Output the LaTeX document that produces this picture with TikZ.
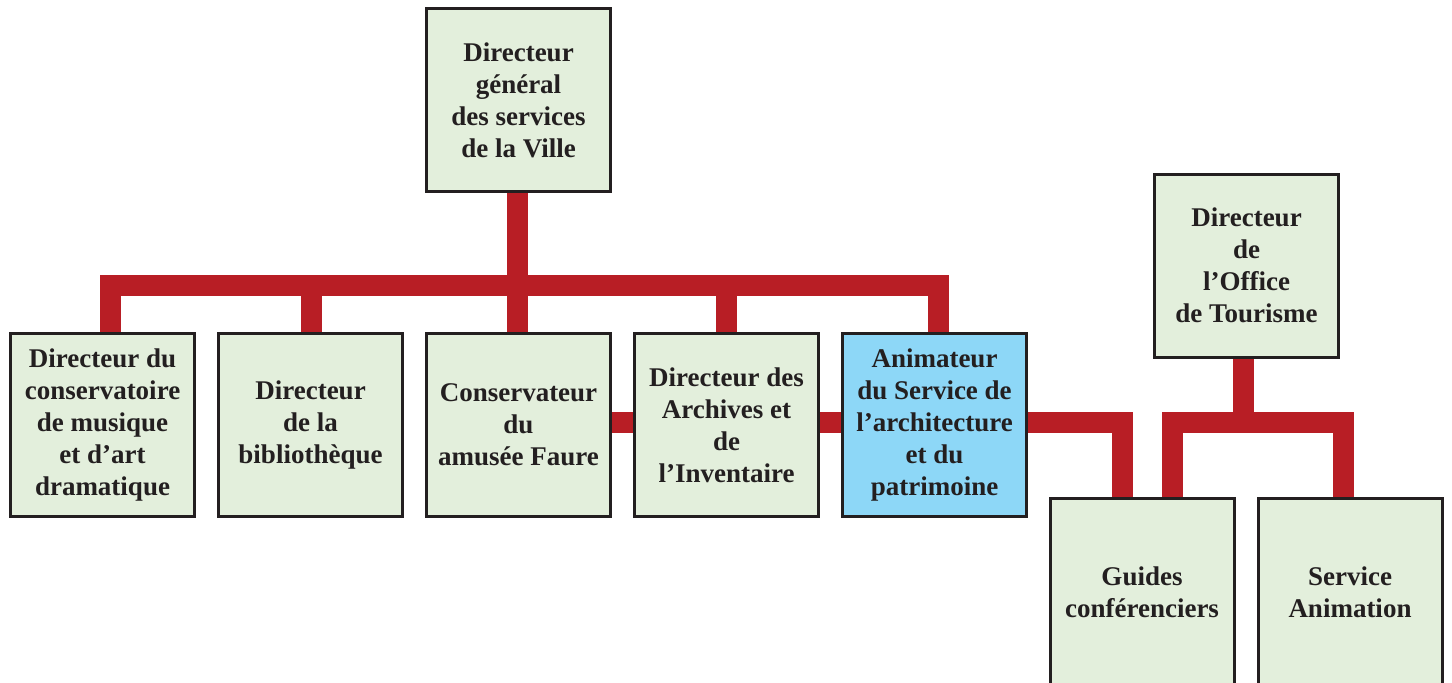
\documentclass[tikz,border=0pt]{standalone}
\usepackage{fontspec}
\setmainfont{Liberation Serif}
\usetikzlibrary{backgrounds}
\definecolor{boxgreen}{HTML}{E3EFDC}
\definecolor{boxblue}{HTML}{8DD7F7}
\definecolor{linkred}{HTML}{B81E25}
\definecolor{ink}{HTML}{231F20}
\pgfdeclarelayer{paper}
\pgfsetlayers{paper,background,main}
\begin{document}
\begin{tikzpicture}[x=1pt,y=-1pt,
  box/.style={draw=ink, line width=3pt, fill=boxgreen, minimum width=184pt, minimum height=183pt,
    inner sep=0pt, align=center, text=ink, font=\fontsize{27}{32}\selectfont\bfseries},
  hilite/.style={box, fill=boxblue},
  link/.style={draw=linkred, line width=21pt, line join=miter, line cap=butt}]
\clip (0,0) rectangle (1452,683);
\begin{pgfonlayer}{paper}
\fill[white] (0,0) rectangle (1452,683);
\end{pgfonlayer}
% boxes
\node[box] (dg) at (518.5,100) {Directeur\\général\\des services\\de la Ville};
\node[box] (b1) at (102.5,425) {Directeur du\\conservatoire\\de musique\\et d’art\\dramatique};
\node[box] (b2) at (310.5,425) {Directeur\\de la\\bibliothèque};
\node[box] (b3) at (518.5,425) {Conservateur\\du\\amusée Faure};
\node[box] (b4) at (726.5,425) {Directeur des\\Archives et\\de\\l’Inventaire};
\node[hilite] (b5) at (934.5,425) {Animateur\\du Service de\\l’architecture\\et du\\patrimoine};
\node[box] (office) at (1246.5,265.5) {Directeur\\de\\l’Office\\de Tourisme};
\node[box, minimum height=188pt] (guides) at (1142,592) {Guides\\conférenciers};
\node[box, minimum height=188pt] (anim) at (1350,592) {Service\\Animation};
% connectors
\coordinate (barR) at (938,285);
\coordinate (jn) at (1243.5,422.5);
\begin{scope}[on background layer]
\draw[link] ([xshift=-1pt]dg.south) -- ([xshift=-1pt]b3.north);
\draw[link] ([xshift=8pt]b1.north) |- (barR) -- (barR |- b5.north);
\draw[link] ([xshift=0.5pt]b2.north) -- ([xshift=0.5pt]b2.north |- barR);
\draw[link] (b4.north) -- (b4.north |- barR);
\draw[link] ([yshift=2.5pt]b3.east) -- ([yshift=2.5pt]b4.west);
\draw[link] ([yshift=2.5pt]b4.east) -- ([yshift=2.5pt]b5.west);
\draw[link] ([yshift=2.5pt]b5.east) -| ([xshift=-20pt]guides.north);
\draw[link] ([xshift=-3pt]office.south) -- (jn);
\draw[link] ([xshift=30.5pt]guides.north) |- (jn) -| ([xshift=-6.5pt]anim.north);
\end{scope}
\end{tikzpicture}
\end{document}
